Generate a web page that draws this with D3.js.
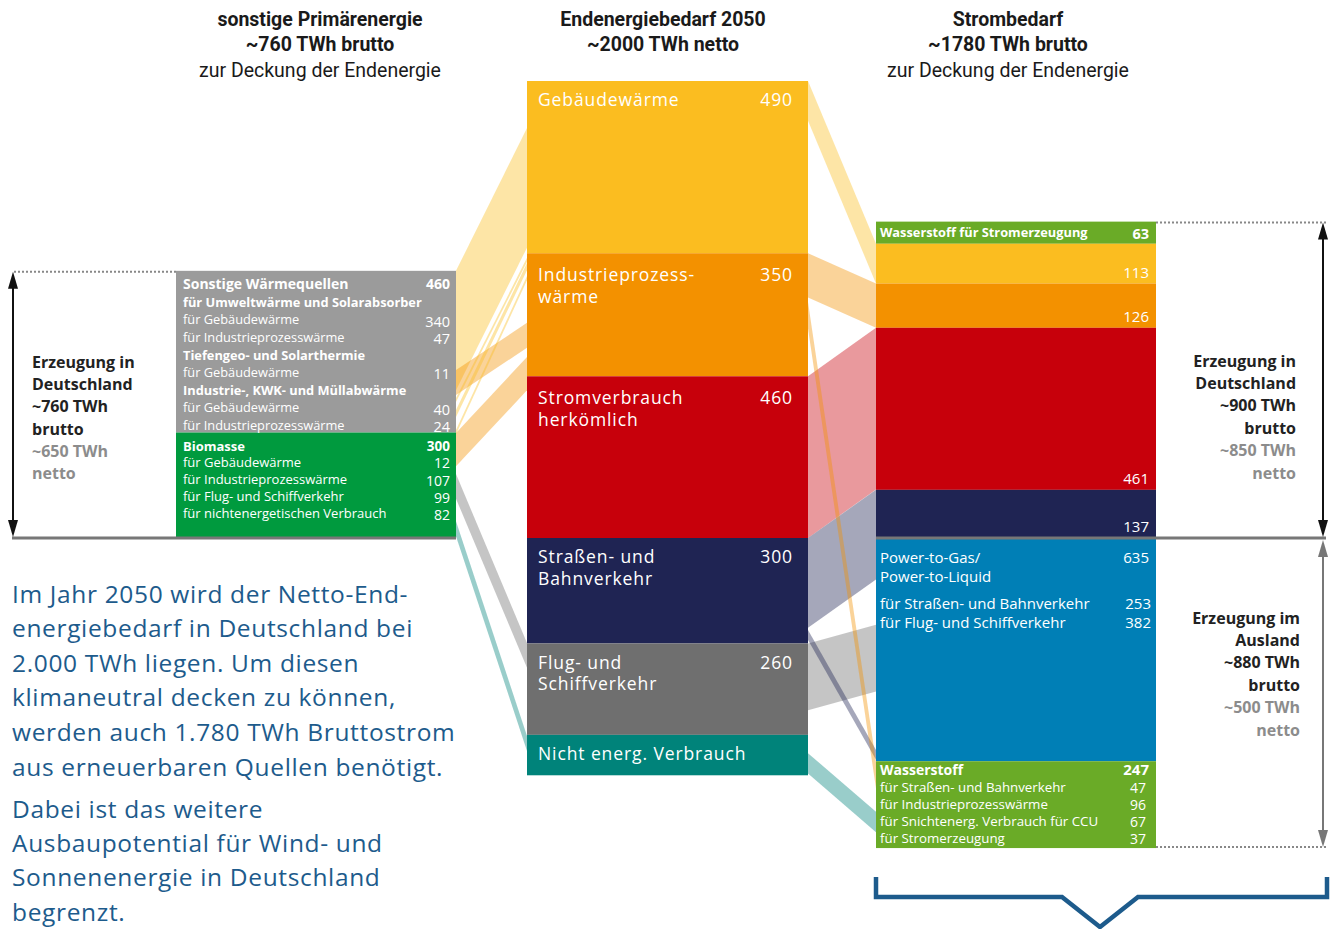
<!DOCTYPE html>
<html>
<head>
<meta charset="utf-8">
<script src="https://cdn.jsdelivr.net/npm/d3@7"></script>
<style>
  body { margin: 0; background: #fff; }
  svg text { font-family: "Open Sans", "Noto Sans", sans-serif; }
  .head { font-family: "Liberation Sans Narrow", "Roboto", sans-serif; }
</style>
</head>
<body>
<svg id="chart" width="1334" height="929"></svg>
<script>
/**************************************************
 * Data (TWh)
 **************************************************/

// middle column: Endenergiebedarf 2050 (first three sit above the 0-line)
const midNames = ["Gebäudewärme", "Industrieprozess-|wärme", "Stromverbrauch|herkömlich",
                  "Straßen- und|Bahnverkehr", "Flug- und|Schiffverkehr", "Nicht energ. Verbrauch"];
const midValues = [490, 350, 460, 300, 260, 115];
const midLabels = ["490", "350", "460", "300", "260", ""];
const midAbove = 3;

// left column: sonstige Primärenergie
const leftNames = ["Sonstige Wärmequellen", "Biomasse"];
const leftValues = [460, 300];
const sonstigeRows = [
  ["für Umweltwärme und Solarabsorber", "", true],
  ["für Gebäudewärme", "340"],
  ["für Industrieprozesswärme", "47"],
  ["Tiefengeo- und Solarthermie", "", true],
  ["für Gebäudewärme", "11"],
  ["Industrie-, KWK- und Müllabwärme", "", true],
  ["für Gebäudewärme", "40"],
  ["für Industrieprozesswärme", "24"]
];
const biomasseRows = [
  ["für Gebäudewärme", "12"],
  ["für Industrieprozesswärme", "107"],
  ["für Flug- und Schiffverkehr", "99"],
  ["für nichtenergetischen Verbrauch", "82"]
];

// right column: Strombedarf, Erzeugung in Deutschland (above) and im Ausland (below)
const rightTopNames = ["Wasserstoff für Stromerzeugung", "", "", "", ""];
const rightTopValues = [63, 113, 126, 461, 137];
const rightBottomNames = ["Power-to-Gas/|Power-to-Liquid", "Wasserstoff"];
const rightBottomValues = [635, 247];
const ptgRows = [["für Straßen- und Bahnverkehr", "253"], ["für Flug- und Schiffverkehr", "382"]];
const h2Rows = [
  ["für Straßen- und Bahnverkehr", "47"],
  ["für Industrieprozesswärme", "96"],
  ["für Snichtenerg. Verbrauch für CCU", "67"],
  ["für Stromerzeugung", "37"]
];

// flows: mid = index of middle category, a = level at source, b = level at target, v = width (TWh)
// levels are TWh counted from the shared 0-line, as drawn in the picture
const flowsLeft = [
  { mid: 0, a: 760, b: 1166, v: 340 },
  { mid: 1, a: 478, b: 612, v: 71 },
  { mid: 1, a: 299, b: 515, v: 95 },
  { mid: 0, a: 398, b: 797, v: 11 },
  { mid: 0, a: 364, b: 782, v: 20 },
  { mid: 0, a: 307, b: 745, v: 12 },
  { mid: 4, a: 182, b: -299, v: 70 },
  { mid: 5, a: 48, b: -563, v: 43 }
];
const flowsRight = [
  { mid: 0, a: 1300, b: 837, v: 113 },
  { mid: 1, a: 810, b: 724, v: 126 },
  { mid: 2, a: 460, b: 598, v: 460 },
  { mid: 3, a: 0, b: 137, v: 255 },
  { mid: 4, a: -300, b: -247, v: 190 },
  { mid: 3, a: -262, b: -603, v: 28 },
  { mid: 1, a: 671, b: -637, v: 75 },
  { mid: 5, a: -612, b: -779, v: 58 }
];

/**************************************************
 * Colours
 **************************************************/
const midColors = ["#fbbd20", "#f39100", "#c7000b", "#1f2453", "#6f6f6f", "#00837a"];
const leftColors = ["#9b9b9b", "#009a3e"];
const rightTopColors = ["#6aab27", "#fbbd20", "#f39100", "#c7000b", "#1f2453"];
const rightBottomColors = ["#007fb6", "#6aab27"];
const blueText = "#1d5b8c";

/**************************************************
 * Rendering
 **************************************************/
const svg = d3.select("#chart");

// one TWh axis for every column, 0 = shared base line
const y = d3.scaleLinear().domain([1300, 0]).range([81, 538]);
const colX = { left: 176, mid: 527, right: 876 };
const colW = 280;

function stack(values, topLevel) {
  let lvl = topLevel;
  return values.map(v => { const s = { top: lvl, bottom: lvl - v, v }; lvl -= v; return s; });
}
const midTop = d3.sum(midValues.slice(0, midAbove));
const midStack = stack(midValues, midTop);
const leftStack = stack(leftValues, d3.sum(leftValues));
const rightTopStack = stack(rightTopValues, d3.sum(rightTopValues));
const rightBottomStack = stack(rightBottomValues, 0);

// flows (drawn first, under the boxes)
const line = d3.line();
function drawFlows(list, x0, x1) {
  svg.append("g").selectAll("path")
    .data(list)
    .enter()
    .append("path")
    .attr("d", d => line([[x0, y(d.a)], [x1, y(d.b)], [x1, y(d.b - d.v)], [x0, y(d.a - d.v)]]) + "Z")
    .attr("fill", d => midColors[d.mid])
    .attr("fill-opacity", 0.4);
}
drawFlows(flowsLeft, colX.left + colW, colX.mid);
drawFlows(flowsRight, colX.mid + colW + 1, colX.right);

function boxes(stackData, colors, x, w) {
  svg.append("g").selectAll("rect")
    .data(stackData)
    .enter()
    .append("rect")
    .attr("x", x)
    .attr("y", d => y(d.top))
    .attr("width", w)
    .attr("height", d => y(d.bottom) - y(d.top))
    .attr("fill", (d, i) => colors[i]);
}
boxes(midStack, midColors, colX.mid, colW + 1);
boxes(leftStack, leftColors, colX.left, colW);
boxes(rightTopStack, rightTopColors, colX.right, colW);
boxes(rightBottomStack, rightBottomColors, colX.right, colW);

function txt(x, yy, s, opt = {}) {
  return svg.append("text")
    .attr("x", x)
    .attr("y", yy)
    .attr("dy", "0.35em")
    .attr("text-anchor", opt.anchor || "start")
    .attr("font-size", opt.size || 14)
    .attr("font-weight", opt.bold ? "bold" : "normal")
    .attr("fill", opt.fill || "#fff")
    .attr("letter-spacing", opt.ls || 0)
    .attr("class", opt.cls || null)
    .text(s);
}

// middle labels
midStack.forEach((d, i) => {
  const t = y(d.top);
  const off = i < midAbove && i > 0 ? 22 : 19;
  midNames[i].split("|").forEach((ln, j) => {
    txt(colX.mid + 11, t + off + j * 21.5, ln, { size: 17.5, ls: 0.9 });
  });
  if (midLabels[i]) txt(colX.mid + 266, t + off, midLabels[i], { size: 17.5, anchor: "end", ls: 0.9 });
});

// left boxes
{
  const t0 = y(leftStack[0].top);
  txt(183, t0 + 13, leftNames[0], { size: 14, bold: true });
  txt(450, t0 + 13, String(leftValues[0]), { size: 14, bold: true, anchor: "end" });
  sonstigeRows.forEach((r, i) => {
    const yy = t0 + 31.5 + i * 17.6;
    txt(183, yy, r[0], { size: 12.8, bold: !!r[2] });
    if (r[1]) txt(450, yy + 1.5, r[1], { size: 14.5, anchor: "end" });
  });
  const t1 = y(leftStack[1].top);
  txt(183, t1 + 14, leftNames[1], { size: 13, bold: true });
  txt(450, t1 + 14, String(leftValues[1]), { size: 13.5, bold: true, anchor: "end" });
  biomasseRows.forEach((r, i) => {
    const yy = t1 + 29.5 + i * 17.2;
    txt(183, yy, r[0], { size: 13 });
    txt(450, yy + 1.5, r[1], { size: 14, anchor: "end" });
  });
}

// right boxes, upper part
rightTopStack.forEach((d, i) => {
  const t = y(d.top), b = y(d.bottom);
  if (i === 0) {
    txt(880, (t + b) / 2, rightTopNames[0], { size: 12.8, bold: true });
    txt(1149, (t + b) / 2 + 1, String(d.v), { size: 14.5, bold: true, anchor: "end" });
  } else {
    txt(1149, b - 11, String(d.v), { size: 15, anchor: "end" });
  }
});

// right boxes, lower part
{
  const t0 = y(rightBottomStack[0].top);
  rightBottomNames[0].split("|").forEach((ln, j) => txt(880, t0 + 20 + j * 19, ln, { size: 15 }));
  txt(1149, t0 + 20, String(rightBottomValues[0]), { size: 15, anchor: "end" });
  ptgRows.forEach((r, i) => {
    txt(880, t0 + 66 + i * 19, r[0], { size: 15 });
    txt(1151, t0 + 66 + i * 19, r[1], { size: 15, anchor: "end" });
  });
  const t1 = y(rightBottomStack[1].top);
  txt(880, t1 + 9, rightBottomNames[1], { size: 14, bold: true });
  txt(1149, t1 + 9, String(rightBottomValues[1]), { size: 15, bold: true, anchor: "end" });
  h2Rows.forEach((r, i) => {
    txt(880, t1 + 26 + i * 17.2, r[0], { size: 13.3 });
    txt(1146, t1 + 26.5 + i * 17.2, r[1], { size: 14, anchor: "end" });
  });
}

// base lines, dotted guide lines and arrows
const base = y(0);
svg.append("line").attr("x1", 12).attr("x2", colX.left + colW).attr("y1", base).attr("y2", base)
  .attr("stroke", "#777").attr("stroke-width", 3);
svg.append("line").attr("x1", colX.right).attr("x2", 1326).attr("y1", base).attr("y2", base)
  .attr("stroke", "#777").attr("stroke-width", 3);

function dotted(x1, x2, yy) {
  svg.append("line").attr("x1", x1).attr("x2", x2).attr("y1", yy).attr("y2", yy)
    .attr("stroke", "#888").attr("stroke-width", 2).attr("stroke-dasharray", "2,2");
}
dotted(14, colX.left, y(leftStack[0].top) + 1);
dotted(colX.right + colW, 1326, y(rightTopStack[0].top) + 1);
dotted(colX.right + colW, 1326, y(rightBottomStack[1].bottom) - 1);

function arrow(x, y1, y2, color) {
  svg.append("line").attr("x1", x).attr("x2", x).attr("y1", y1 + 8).attr("y2", y2 - 8)
    .attr("stroke", color).attr("stroke-width", 2);
  svg.append("path").attr("d", `M${x},${y1} L${x - 5},${y1 + 17} L${x + 5},${y1 + 17} Z`).attr("fill", color);
  svg.append("path").attr("d", `M${x},${y2} L${x - 5},${y2 - 17} L${x + 5},${y2 - 17} Z`).attr("fill", color);
}
arrow(13, y(leftStack[0].top) + 1, base - 1, "#111");
arrow(1323, y(rightTopStack[0].top) + 1, base - 1, "#111");
arrow(1323, base + 2, y(rightBottomStack[1].bottom) - 1, "#777");

// side notes
const noteLeft = [["Erzeugung in", "#222"], ["Deutschland", "#222"], ["~760 TWh", "#222"], ["brutto", "#222"], ["~650 TWh", "#8c8c8c"], ["netto", "#8c8c8c"]];
const noteRightTop = [["Erzeugung in", "#222"], ["Deutschland", "#222"], ["~900 TWh", "#222"], ["brutto", "#222"], ["~850 TWh", "#8c8c8c"], ["netto", "#8c8c8c"]];
const noteRightBottom = [["Erzeugung im", "#222"], ["Ausland", "#222"], ["~880 TWh", "#222"], ["brutto", "#222"], ["~500 TWh", "#8c8c8c"], ["netto", "#8c8c8c"]];
noteLeft.forEach((n, i) => txt(32, 362 + i * 22.3, n[0], { size: 16, bold: true, fill: n[1] }));
noteRightTop.forEach((n, i) => txt(1296, 361 + i * 22.4, n[0], { size: 16, bold: true, fill: n[1], anchor: "end" }));
noteRightBottom.forEach((n, i) => txt(1300, 618 + i * 22.4, n[0], { size: 16, bold: true, fill: n[1], anchor: "end" }));

// column headings
const heads = [
  [320, ["sonstige Primärenergie", true], ["~760 TWh brutto", true], ["zur Deckung der Endenergie", false]],
  [663, ["Endenergiebedarf 2050", true], ["~2000 TWh netto", true]],
  [1008, ["Strombedarf", true], ["~1780 TWh brutto", true], ["zur Deckung der Endenergie", false]]
];
heads.forEach(h => {
  h.slice(1).forEach((l, i) => txt(h[0], 19 + i * 25.5, l[0], { size: 19.5, bold: l[1], fill: "#1a1a1a", anchor: "middle", cls: "head" }));
});

// paragraph
const para = [
  "Im Jahr 2050 wird der Netto-End-",
  "energiebedarf in Deutschland bei",
  "2.000 TWh liegen. Um diesen",
  "klimaneutral decken zu können,",
  "werden auch 1.780 TWh Bruttostrom",
  "aus erneuerbaren Quellen benötigt."
];
const para2 = ["Dabei ist das weitere", "Ausbaupotential für Wind- und", "Sonnenenergie in Deutschland", "begrenzt."];
para.forEach((l, i) => txt(12, 594 + i * 34.6, l, { size: 24.5, fill: blueText, ls: 0.65 }));
para2.forEach((l, i) => txt(12, 809 + i * 34.4, l, { size: 24.5, fill: blueText, ls: 0.65 }));

// bracket under the right column
svg.append("path")
  .attr("d", "M876,877 V897 H1062 L1100,927 L1138,897 H1327 V877")
  .attr("fill", "none")
  .attr("stroke", blueText)
  .attr("stroke-width", 4.5);
</script>
</body>
</html>
